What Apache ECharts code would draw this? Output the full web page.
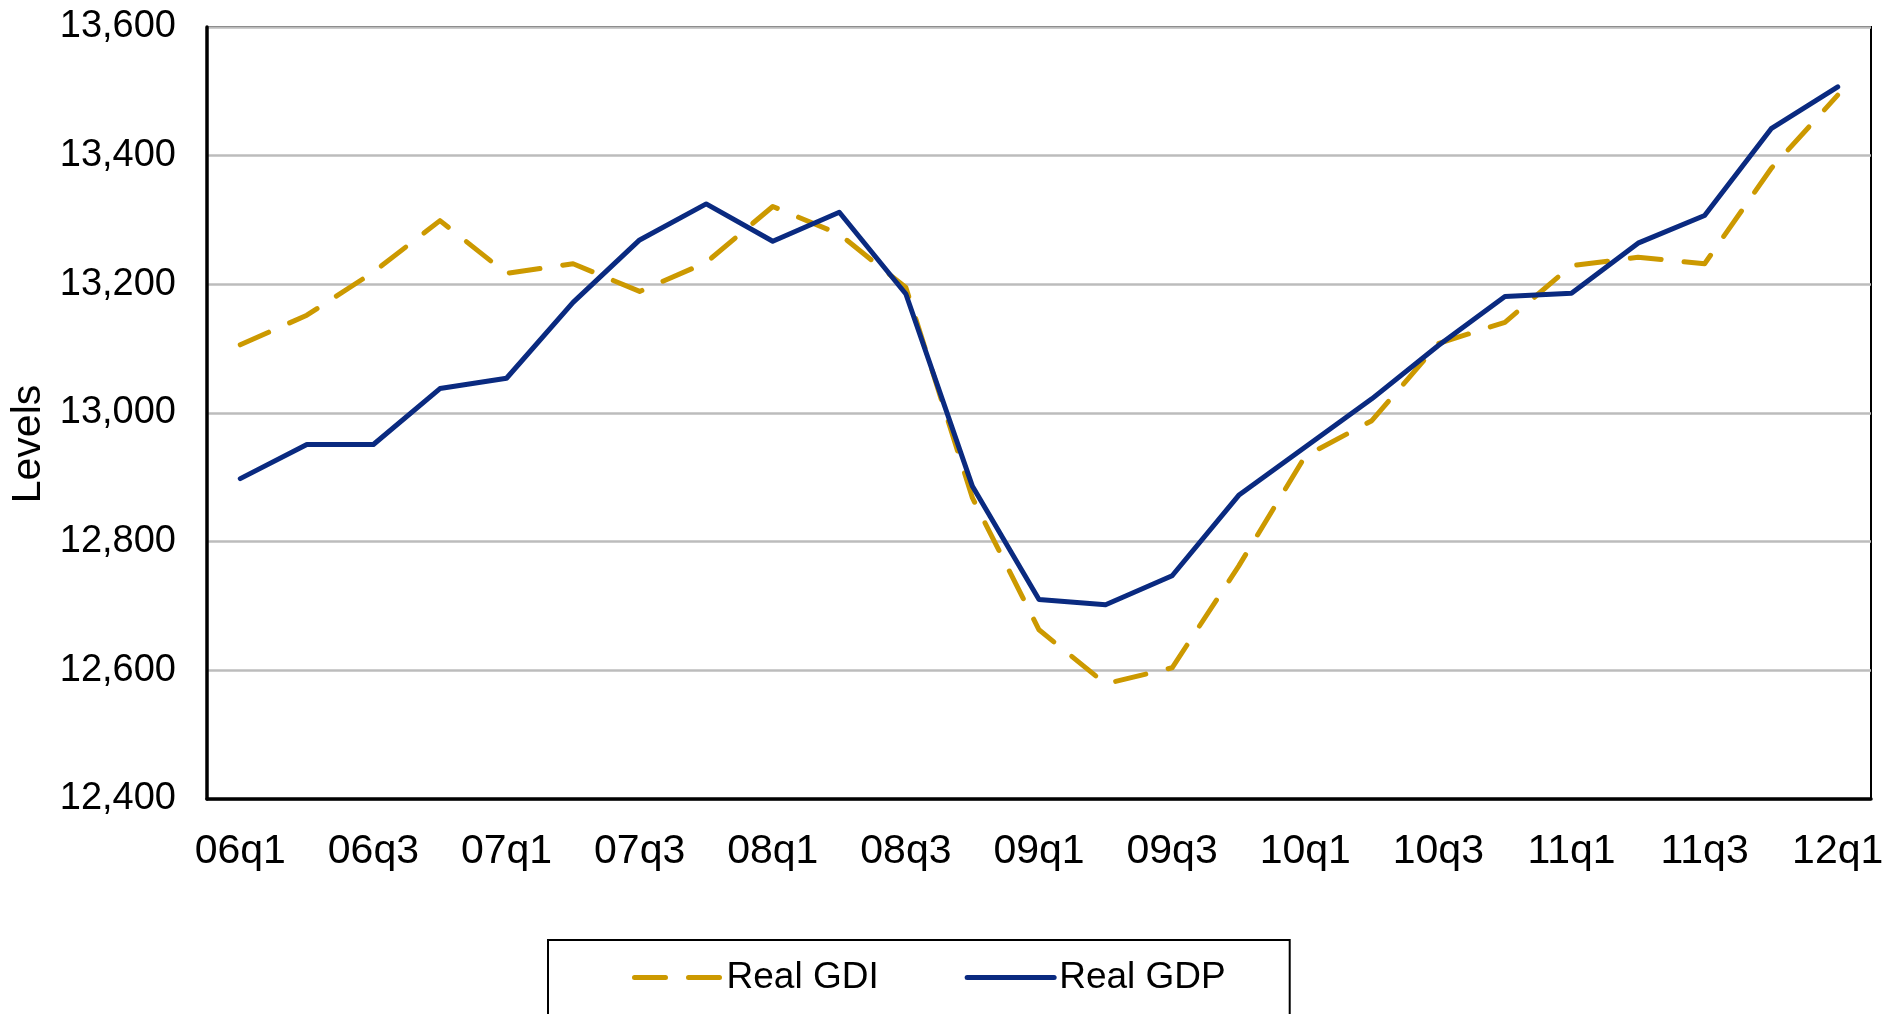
<!DOCTYPE html>
<html>
<head>
<meta charset="utf-8">
<title>Real GDI and Real GDP</title>
<script src="https://cdn.jsdelivr.net/npm/echarts@6/dist/echarts.min.js"></script>
<style>
  html, body { margin: 0; padding: 0; background: #fff; }
  #chart { width: 1896px; height: 1014px; }
</style>
</head>
<body>
<div id="chart"></div>
<script>
// Quarterly levels, 2006Q1 - 2012Q1
var quarters = ['06q1','06q2','06q3','06q4','07q1','07q2','07q3','07q4',
                '08q1','08q2','08q3','08q4','09q1','09q2','09q3','09q4',
                '10q1','10q2','10q3','10q4','11q1','11q2','11q3','11q4','12q1'];

var realGDI = [13106, 13152, 13219, 13299, 13217, 13232, 13189, 13234,
               13321, 13278, 13195, 12868, 12663, 12579, 12604, 12762,
               12933, 12988, 13108, 13141, 13229, 13242, 13232, 13380, 13494];

var realGDP = [12898, 12951, 12951, 13038, 13054, 13172, 13269, 13325,
               13267, 13312, 13185, 12886, 12710, 12702, 12747, 12872,
               12947, 13022, 13105, 13181, 13186, 13264, 13307, 13442, 13507];

var seriesNames = ['Real GDI', 'Real GDP'];
var axisTitle = 'Levels';
var yMin = 12400, yMax = 13600, yStep = 200;

var FONT = "'Liberation Sans', Arial, sans-serif";
var GOLD = '#cc9900';
var NAVY = '#0a2a80';

var gdiLine = { color: GOLD, width: 5, type: [31, 23], cap: 'round', join: 'round' };
var gdpLine = { color: NAVY, width: 5, cap: 'round', join: 'round' };
var hiddenMarker = { color: 'rgba(0,0,0,0)', borderWidth: 0, opacity: 0 };

var chart = echarts.init(document.getElementById('chart'), null, { renderer: 'canvas' });

chart.setOption({
  animation: false,
  backgroundColor: '#ffffff',
  textStyle: { fontFamily: FONT, color: '#000' },
  grid: {
    left: 207, right: 25, top: 27, bottom: 215,
    outerBoundsMode: 'none',
    containLabel: false,
    show: true, borderColor: '#000', borderWidth: 2, backgroundColor: 'transparent'
  },
  legend: {
    data: [
      { name: seriesNames[0], lineStyle: gdiLine, itemStyle: hiddenMarker },
      { name: seriesNames[1], lineStyle: gdpLine, itemStyle: hiddenMarker }
    ],
    left: 548, top: 940,
    orient: 'horizontal',
    itemWidth: 87, itemHeight: 14, itemGap: 86,
    padding: [19, 64, 60, 84],
    borderColor: '#000', borderWidth: 2,
    textStyle: { fontFamily: FONT, fontSize: 37, color: '#000' }
  },
  xAxis: {
    type: 'category',
    data: quarters,
    boundaryGap: true,
    axisLine: { show: true, lineStyle: { color: '#000', width: 3.5 } },
    axisTick: { show: false },
    axisLabel: {
      interval: 1, margin: 32,
      fontFamily: FONT, fontSize: 41, color: '#000'
    },
    splitLine: { show: false }
  },
  yAxis: {
    type: 'value',
    min: yMin, max: yMax, interval: yStep,
    name: axisTitle,
    nameLocation: 'middle',
    nameGap: 148,
    nameRotate: 90,
    nameTextStyle: { fontFamily: FONT, fontSize: 41, color: '#000', padding: [0, 62, 0, 0] },
    axisLine: { show: true, lineStyle: { color: '#000', width: 3.5 } },
    axisTick: { show: false },
    axisLabel: {
      margin: 31, fontFamily: FONT, fontSize: 38, color: '#000',
      formatter: function (v) { return v.toLocaleString('en-US'); }
    },
    splitLine: { show: true, lineStyle: { color: '#bcbcbc', width: 2.5 } }
  },
  series: [
    {
      name: seriesNames[0],
      type: 'line',
      data: realGDI,
      symbol: 'none',
      z: 2,
      lineStyle: gdiLine,
      itemStyle: { color: GOLD }
    },
    {
      name: seriesNames[1],
      type: 'line',
      data: realGDP,
      symbol: 'none',
      z: 3,
      lineStyle: gdpLine,
      itemStyle: { color: NAVY }
    }
  ]
});
</script>
</body>
</html>
